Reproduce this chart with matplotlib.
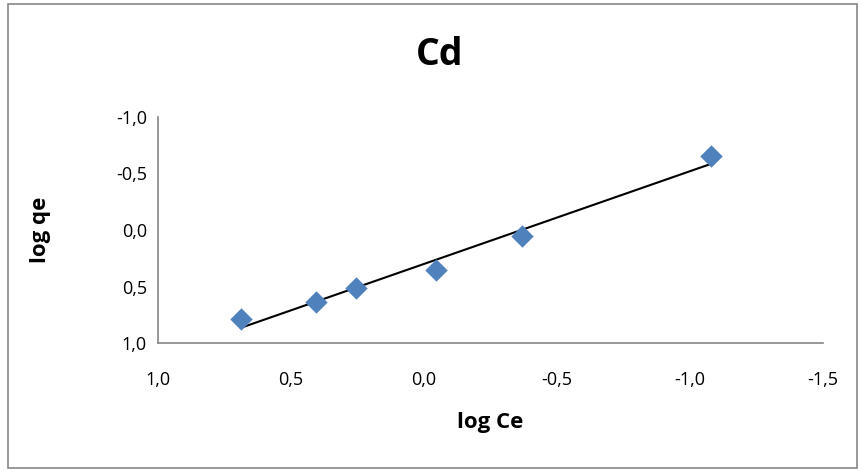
import numpy as np
import matplotlib.pyplot as plt
from matplotlib.ticker import FuncFormatter, MultipleLocator
from matplotlib.patches import Rectangle

log_ce = [0.689, 0.406, 0.257, -0.044, -0.367, -1.078]
log_qe = [0.788, 0.634, 0.516, 0.354, 0.053, -0.655]

plt.rcParams['font.family'] = ['Open Sans', 'DejaVu Sans']

fig = plt.figure(figsize=(8.61, 4.73), dpi=100)
fig.patches.append(Rectangle((8/861, 5/473), 849/861, 464/473, transform=fig.transFigure,
                             fill=False, edgecolor="#868686", linewidth=1.2))
ax = fig.add_axes([158/861, 1-343/473, 665/861, 226/473])

ax.scatter(log_ce, log_qe, marker="D", s=130, color="#4F81BD", zorder=3, linewidths=0)

# linear trendline
slope, intercept = np.polyfit(log_ce, log_qe, 1)
xs = np.array([max(log_ce), min(log_ce)])
ax.plot(xs, intercept + slope*xs, color="black", linewidth=1.5, zorder=2)

ax.set_xlim(1.0, -1.5)
ax.set_ylim(1.0, -1.0)
ax.xaxis.set_major_locator(MultipleLocator(0.5))
ax.yaxis.set_major_locator(MultipleLocator(0.5))

def comma(v, pos):
    s = f"{v:.1f}"
    if s == "-0.0":
        s = "0.0"
    return s.replace(".", ",")

ax.xaxis.set_major_formatter(FuncFormatter(comma))
ax.yaxis.set_major_formatter(FuncFormatter(comma))
ax.tick_params(length=0, labelsize=13)
ax.tick_params(axis="x", pad=20)
ax.tick_params(axis="y", pad=8)

for side in ["top", "right"]:
    ax.spines[side].set_visible(False)
for side in ["left", "bottom"]:
    ax.spines[side].set_color("#868686")
    ax.spines[side].set_linewidth(1.2)

fig.text(440/861, 1-55/473, "Cd", fontsize=27, fontweight="bold", ha="center", va="center")
ax.set_xlabel("log Ce", fontsize=16, fontweight="bold", labelpad=17)
ax.set_ylabel("log qe", fontsize=16, fontweight="bold")
ax.yaxis.set_label_coords(-0.161, 0.5)

fig.savefig("out.png", dpi=100)
